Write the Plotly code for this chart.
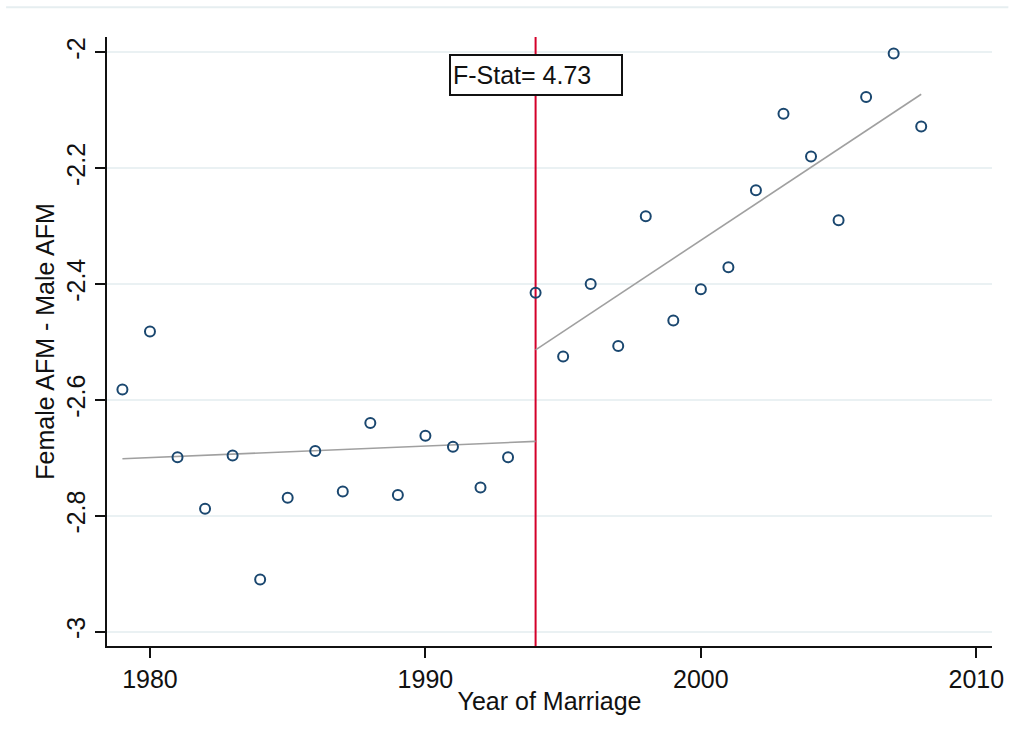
import numpy as np
import plotly.graph_objects as go

# Female minus male age at first marriage, by year of marriage
years = list(range(1979, 2009))
afm_gap = [-2.582, -2.482, -2.699, -2.788, -2.696, -2.910, -2.769, -2.688, -2.758, -2.640,
           -2.764, -2.662, -2.681, -2.751, -2.699, -2.415, -2.525, -2.400, -2.507, -2.283,
           -2.463, -2.409, -2.371, -2.238, -2.106, -2.180, -2.290, -2.077, -2.002, -2.128]

break_year = 1994
f_stat = 4.73

x_ticks = [1980, 1990, 2000, 2010]
y_ticks = [-3, -2.8, -2.6, -2.4, -2.2, -2]
y_tick_labels = ["-3", "-2.8", "-2.6", "-2.4", "-2.2", "-2"]

x_range = [1978.44, 2010.57]
y_range = [-3.0247, -1.9736]

FONT = "Liberation Sans, Arial, sans-serif"
NAVY = "#1a476f"
GRID = "#eaf1f3"
INK = "#111111"

x = np.array(years, dtype=float)
y = np.array(afm_gap, dtype=float)

fig = go.Figure()

# Vertical line at the break year, spanning the full plot height
fig.add_trace(go.Scatter(
    x=[break_year, break_year], y=y_range, mode="lines",
    line=dict(color="#d4002a", width=2), hoverinfo="skip", showlegend=False,
))

# Linear fits on each side of the break (both include the break year)
for mask in (x <= break_year, x >= break_year):
    slope, intercept = np.polyfit(x[mask], y[mask], 1)
    xs = np.array([x[mask].min(), x[mask].max()])
    fig.add_trace(go.Scatter(
        x=xs, y=slope * xs + intercept, mode="lines",
        line=dict(color="#a0a0a0", width=1.6), hoverinfo="skip", showlegend=False,
    ))

fig.add_trace(go.Scatter(
    x=years, y=afm_gap, mode="markers",
    marker=dict(symbol="circle-open", size=10, color=NAVY, line=dict(width=2, color=NAVY)),
    showlegend=False,
))

# Faint rule across the top of the graph region
fig.add_shape(type="line", xref="paper", yref="paper", x0=-0.114, x1=1.0185,
              y0=1.049, y1=1.049, line=dict(color="#e6eef0", width=2))

fig.add_annotation(
    x=break_year, xref="x", xanchor="center",
    y=0.9376, yref="paper", yanchor="middle",
    text=f"F-Stat= {f_stat:.2f}", showarrow=False, align="left",
    width=166, height=34, borderpad=2,
    bgcolor="white", bordercolor=INK, borderwidth=2,
    font=dict(family=FONT, size=25, color=INK),
)

fig.update_xaxes(
    range=x_range, tickvals=x_ticks, ticktext=[str(t) for t in x_ticks],
    automargin=False, showgrid=False, zeroline=False,
    showline=True, linecolor=INK, linewidth=2,
    ticks="outside", ticklen=10, tickwidth=2, tickcolor=INK,
    tickfont=dict(family=FONT, size=25, color=INK),
    title=dict(text="Year of Marriage", font=dict(family=FONT, size=25, color=INK), standoff=0),
)
fig.update_yaxes(
    range=y_range, tickvals=y_ticks, ticktext=y_tick_labels, tickangle=-90,
    automargin=False, showgrid=True, gridcolor=GRID, gridwidth=2, zeroline=False,
    showline=True, linecolor=INK, linewidth=2,
    ticks="outside", ticklen=10, tickwidth=2, tickcolor=INK,
    tickfont=dict(family=FONT, size=25, color=INK),
    title=dict(text="Female AFM - Male AFM", font=dict(family=FONT, size=25, color=INK), standoff=0),
)

fig.update_layout(
    width=1009, height=740,
    margin=dict(l=107, r=17, t=37, b=94),
    paper_bgcolor="white", plot_bgcolor="white",
    hovermode="closest",
)

fig.write_html("out.html")
